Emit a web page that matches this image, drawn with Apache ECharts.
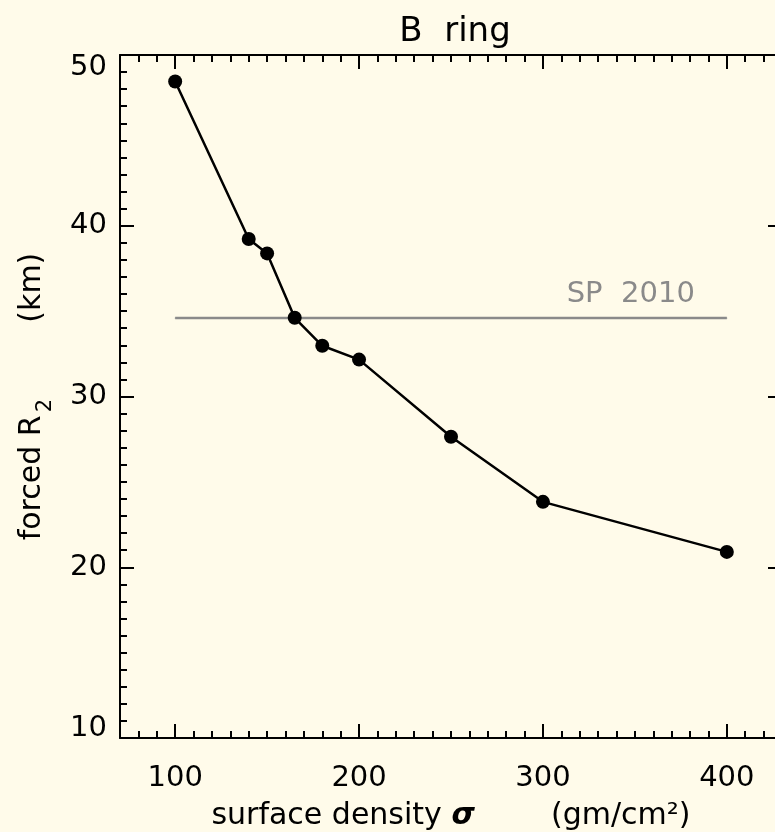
<!DOCTYPE html>
<html>
<head>
<meta charset="utf-8">
<script src="https://cdn.jsdelivr.net/npm/echarts@6/dist/echarts.min.js"></script>
<style>
  html, body { margin: 0; padding: 0; background: #fffbea; }
  #chart { width: 775px; height: 832px; }
</style>
</head>
<body>
<div id="chart"></div>
<script>
// surface density (gm/cm^2) and forced R2 (km)
const sigma = [100, 140, 150, 165, 180, 200, 250, 300, 400];
const forcedR2 = [48.45, 39.22, 38.38, 34.61, 32.97, 32.16, 27.64, 23.83, 20.9];

// SP 2010 reference level
const spSigma = [100, 400];
const spLevel = [34.6, 34.6];

const xMajor = [100, 200, 300, 400];

const font = "DejaVu Sans";
const ink = "#000";

const myChart = echarts.init(document.getElementById("chart"));

// minor axes carry the line + short ticks, major axes only carry long ticks
function xAxisCfg(position, major, labels) {
  return {
    type: "value",
    position: position,
    min: 70,
    max: 430,
    interval: 10,
    splitLine: { show: false },
    axisLine: { show: !major, onZero: false, lineStyle: { color: ink, width: 2 } },
    axisTick: major
      ? { show: true, inside: true, length: 14, customValues: xMajor, lineStyle: { color: ink, width: 2 } }
      : { show: true, inside: true, length: 7, lineStyle: { color: ink, width: 2 } },
    axisLabel: labels
      ? {
          show: true,
          margin: 26,
          color: ink,
          fontSize: 29,
          fontFamily: font,
          formatter: function (v) {
            return Math.round(v) % 100 === 0 ? String(Math.round(v)) : "";
          },
        }
      : { show: false },
  };
}

function yAxisCfg(position, major, labels) {
  return {
    type: "value",
    position: position,
    min: 10,
    max: 50,
    interval: major ? 10 : 1,
    splitLine: { show: false },
    axisLine: { show: !major, onZero: false, lineStyle: { color: ink, width: 2 } },
    axisTick: { show: true, inside: true, length: major ? 14 : 7, lineStyle: { color: ink, width: 2 } },
    axisLabel: labels
      ? {
          show: true,
          margin: 13,
          color: ink,
          fontSize: 29,
          fontFamily: font,
          formatter: function (v) {
            const r = Math.round(v);
            if (r % 10 !== 0) return "";
            if (r === 50) return "{top|50}";
            if (r === 10) return "{bot|10}";
            return String(r);
          },
          rich: {
            top: { fontSize: 29, fontFamily: font, color: ink, padding: [24, 0, 0, 0] },
            bot: { fontSize: 29, fontFamily: font, color: ink, padding: [0, 0, 20, 0] },
          },
        }
      : { show: false },
  };
}

const xb = xAxisCfg("bottom", false, true);
xb.name = "surface density {sig|σ}        (gm/cm²)";
xb.nameLocation = "middle";
xb.nameGap = 63;
xb.nameTextStyle = {
  color: ink,
  fontSize: 30,
  fontFamily: font,
  rich: {
    sig: { fontSize: 30, fontFamily: font, fontStyle: "italic", fontWeight: "bold", color: ink },
  },
};

const yl = yAxisCfg("left", false, true);
yl.name = "forced R{sub|2}        (km)";
yl.nameLocation = "middle";
yl.nameRotate = 90;
yl.nameGap = 64;
yl.nameTextStyle = {
  color: ink,
  fontSize: 30,
  fontFamily: font,
  rich: {
    sub: { fontSize: 21, fontFamily: font, color: ink, padding: [26, 0, 0, 3] },
  },
};

let option = {
  backgroundColor: "#fffbea",
  animation: false,
  textStyle: { fontFamily: font },
  title: {
    text: "B  ring",
    left: 450,
    top: 10,
    textAlign: "center",
    textStyle: { color: ink, fontSize: 34, fontWeight: "normal", fontFamily: font },
  },
  grid: {
    left: 120,
    top: 55,
    width: 662,
    height: 683,
    outerBoundsMode: "none",
    containLabel: false,
  },
  xAxis: [xb, xAxisCfg("bottom", true, false), xAxisCfg("top", false, false), xAxisCfg("top", true, false)],
  yAxis: [yl, yAxisCfg("left", true, false), yAxisCfg("right", false, false), yAxisCfg("right", true, false)],
  series: [
    {
      name: "SP 2010",
      type: "line",
      xAxisIndex: 0,
      yAxisIndex: 0,
      symbol: "circle",
      symbolSize: 1,
      itemStyle: { color: "#8a8a8a" },
      lineStyle: { color: "#8a8a8a", width: 2.5 },
      data: spSigma.map(function (x, i) {
        if (i === spSigma.length - 1) {
          return {
            value: [x, spLevel[i]],
            label: {
              show: true,
              formatter: "SP  2010",
              position: "top",
              align: "right",
              offset: [-32, -3],
              color: "#8a8a8a",
              fontSize: 29,
              fontFamily: font,
            },
          };
        }
        return [x, spLevel[i]];
      }),
      z: 2,
    },
    {
      name: "B ring",
      type: "line",
      xAxisIndex: 0,
      yAxisIndex: 0,
      symbol: "circle",
      symbolSize: 14,
      itemStyle: { color: ink },
      lineStyle: { color: ink, width: 2.5 },
      data: sigma.map(function (x, i) {
        return [x, forcedR2[i]];
      }),
      z: 3,
    },
  ],
};

myChart.setOption(option);
</script>
</body>
</html>
